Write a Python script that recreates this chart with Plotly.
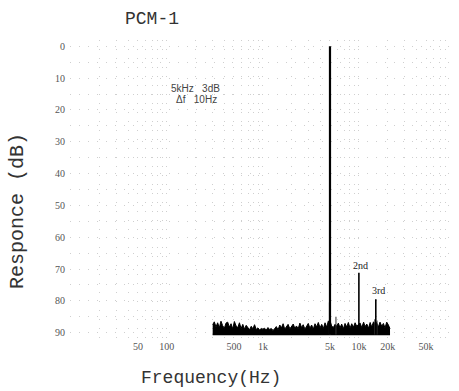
import math
import plotly.graph_objects as go

# ---------------- data ----------------
tick_freqs = [50, 100, 500, 1000, 5000, 10000, 20000, 50000]
tick_texts = ["50", "100", "500", "1k", "5k", "10k", "20k", "50k"]
db_ticks = [0, 10, 20, 30, 40, 50, 60, 70, 80, 90]

# fundamental and harmonics (Hz, dB)
tone_freq = [5000, 10000, 15000]
tone_db = [0, 71.2, 79.5]
tone_names = ["", "2nd", "3rd"]

# small spurious lines near the floor
spur_freq = [4930, 5060, 5770, 14650, 15450]
spur_db = [80.5, 78.5, 85.0, 85.8, 86.2]

# noise floor
floor_db = 90.6
noise_freq = [300, 312, 325, 338, 352, 366, 381, 397, 413, 430, 448, 466, 485, 505, 526, 548, 570, 593,
              618, 643, 670, 697, 726, 756, 787, 819, 853, 888, 924, 962, 1000,
              1040, 1085, 1130, 1175, 1225, 1275, 1325, 1380, 1440, 1500, 1560, 1625, 1690, 1760, 1830, 1910, 1990,
              2070, 2150, 2240, 2330, 2430, 2530, 2630, 2740, 2850, 2970, 3090, 3220, 3350, 3490, 3630, 3780,
              3940, 4100, 4270, 4440, 4620, 4810, 4950,
              5050, 5200, 5420, 5640, 5870, 6110, 6360, 6620, 6890, 7170, 7470, 7770, 8090, 8420, 8770, 9130,
              9500, 9890,
              10300, 10700, 11200, 11600, 12100, 12600, 13100, 13600, 14200, 14700, 15300, 15900, 16600, 17300,
              18000, 18700, 19500, 20300, 21100]
noise_db = [87.5, 86.6, 88.2, 86.9, 88.5, 86.4, 87.8, 88.6, 87.0, 86.7, 88.3, 87.2, 88.8, 86.5, 87.9, 88.4, 86.9, 88.7,
            87.4, 88.9, 87.7, 88.6, 89.1, 88.0, 88.8, 87.5, 89.0, 88.5, 89.2, 88.7, 88.9,
            88.6, 89.2, 88.4, 89.0, 88.7, 89.3, 88.8, 88.1, 89.1, 87.6, 88.5, 87.2, 88.9, 88.2, 87.4, 88.8, 88.0,
            87.3, 88.6, 87.9, 88.8, 87.0, 88.4, 87.5, 88.9, 88.1, 87.1, 88.6, 87.6, 88.9, 87.2, 88.2, 86.8,
            88.5, 87.4, 88.7, 86.9, 88.3, 86.3, 87.0,
            86.6, 87.9, 88.4, 87.4, 88.0, 87.0, 88.5, 87.3, 88.8, 87.1, 88.2, 86.8, 88.6, 87.2, 88.3, 86.9,
            88.0, 87.4,
            87.0, 88.4, 86.7, 88.1, 87.3, 88.6, 86.8, 88.2, 86.6, 87.2, 86.8, 88.3, 86.7, 88.0,
            87.1, 88.5, 86.7, 87.6, 88.8]

# ---------------- layout geometry ----------------
W, H = 459, 391
ML, MR, MT, MB = 70, 9, 40, 52
PW, PH = W - ML - MR, H - MT - MB


def px(xp):
    return (xp - ML) / PW


def py(yp):
    return 1 - (yp - MT) / PH


fig = go.Figure()

# floor baseline
fig.add_trace(go.Scatter(x=[noise_freq[0], noise_freq[-1]], y=[floor_db, floor_db], mode="lines",
                         line=dict(color="black", width=1.5), hoverinfo="skip"))
# noise
fig.add_trace(go.Scatter(x=noise_freq, y=noise_db, mode="lines", fill="tonexty", fillcolor="black",
                         line=dict(color="black", width=1), hoverinfo="skip"))

# spurs
sx, sy = [], []
for f, d in zip(spur_freq, spur_db):
    sx += [f, f, None]
    sy += [floor_db, d, None]
fig.add_trace(go.Scatter(x=sx, y=sy, mode="lines", line=dict(color="#333", width=1), hoverinfo="skip"))

# harmonics
hx, hy = [], []
for f, d in zip(tone_freq[1:], tone_db[1:]):
    hx += [f, f, None]
    hy += [floor_db, d, None]
fig.add_trace(go.Scatter(x=hx, y=hy, mode="lines", line=dict(color="black", width=1.6), hoverinfo="skip"))

# fundamental
fig.add_trace(go.Scatter(x=[tone_freq[0], tone_freq[0]], y=[floor_db, tone_db[0]], mode="lines",
                         line=dict(color="black", width=2.2), hoverinfo="skip"))

grid_style = dict(gridcolor="#cfcfcf", griddash="1px,8px", gridwidth=1)

fig.update_layout(
    width=W, height=H,
    margin=dict(l=ML, r=MR, t=MT, b=MB),
    paper_bgcolor="white", plot_bgcolor="white",
    showlegend=False,
    title=dict(text="PCM-1", x=152 / W, xanchor="center", y=1 - 18 / H, yanchor="middle",
               yref="container", xref="container",
               font=dict(family="Liberation Mono", size=18, color="#333")),
    xaxis=dict(type="log", range=[0.991, 4.949], tickmode="array", tickvals=tick_freqs, ticktext=tick_texts,
               showline=False, zeroline=False, ticks="", showgrid=True, **grid_style,
               minor=dict(dtick="D1", showgrid=True, **grid_style),
               tickfont=dict(family="Liberation Serif", size=10, color="#555")),
    yaxis=dict(range=[92, -2], tickmode="array", tickvals=db_ticks, ticktext=[str(v) for v in db_ticks],
               showline=False, zeroline=False, ticks="", showgrid=True, **grid_style,
               minor=dict(dtick=5, showgrid=True, **grid_style), ticklabelstandoff=4,
               tickfont=dict(family="Liberation Serif", size=10, color="#555")),
)

ann_font = dict(family="Liberation Sans", size=10, color="#444")
fig.add_annotation(text="5kHz &nbsp;&nbsp;3dB", xref="paper", yref="paper", x=px(169), y=py(88),
                   xanchor="left", yanchor="middle", showarrow=False, font=ann_font)
fig.add_annotation(text="Δf &nbsp;&nbsp;10Hz", xref="paper", yref="paper", x=px(174), y=py(99),
                   xanchor="left", yanchor="middle", showarrow=False, font=ann_font)
fig.add_annotation(text=tone_names[1], x=math.log10(tone_freq[1]), y=tone_db[1] - 2.3, xshift=2,
                   xanchor="center", yanchor="middle",
                   showarrow=False, font=dict(family="Liberation Serif", size=10, color="#222"))
fig.add_annotation(text=tone_names[2], x=math.log10(tone_freq[2]), y=tone_db[2] - 2.9, xshift=3,
                   xanchor="center", yanchor="middle",
                   showarrow=False, font=dict(family="Liberation Serif", size=10, color="#222"))

fig.add_annotation(text="Frequency(Hz)", xref="paper", yref="paper", x=px(211), y=py(378),
                   xanchor="center", yanchor="middle",
                   showarrow=False, font=dict(family="Liberation Mono", size=18, color="#333"))
fig.add_annotation(text="Responce (dB)", xref="paper", yref="paper", x=px(18), y=py(211), textangle=-90,
                   xanchor="center", yanchor="middle",
                   showarrow=False, font=dict(family="Liberation Mono", size=20, color="#333"))

fig.write_html("out.html")
